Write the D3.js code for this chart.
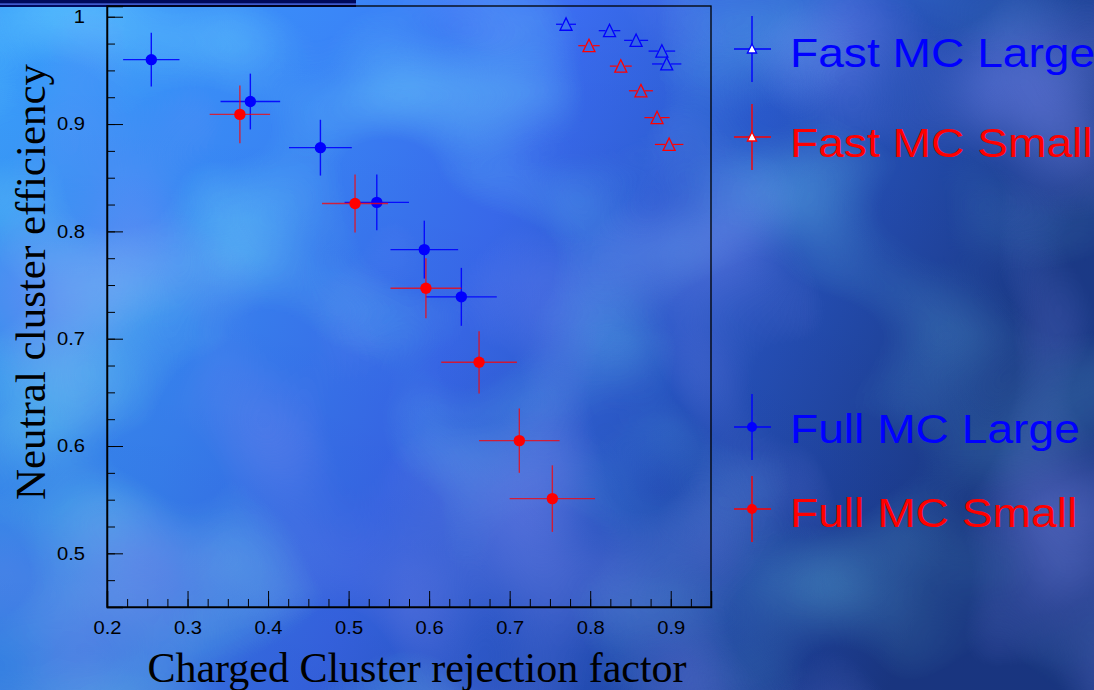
<!DOCTYPE html>
<html>
<head>
<meta charset="utf-8">
<script src="https://cdn.jsdelivr.net/npm/d3@7"></script>
<style>
  body { margin: 0; overflow: hidden; }
  svg { display: block; }
  .axis path, .axis line { stroke: #000; }
  .axis text { font-family: "Liberation Sans", Arial, sans-serif; font-size: 17.7px; fill: #000; }
</style>
</head>
<body>
<div id="chart"></div>
<script>
//chart values
var fullLargeX = [0.255, 0.378, 0.465, 0.535, 0.594, 0.640];
var fullLargeY = [0.960, 0.921, 0.878, 0.827, 0.783, 0.739];
var fullLargeXErr = [0.035, 0.037, 0.039, 0.040, 0.042, 0.044];
var fullLargeYErr = [0.025, 0.026, 0.026, 0.026, 0.027, 0.027];

var fullSmallX = [0.365, 0.508, 0.596, 0.662, 0.712, 0.753];
var fullSmallY = [0.909, 0.826, 0.747, 0.678, 0.605, 0.551];
var fullSmallXErr = [0.0375, 0.041, 0.044, 0.047, 0.050, 0.053];
var fullSmallYErr = [0.027, 0.027, 0.028, 0.029, 0.030, 0.031];

var fastLargeX = [0.770, 0.824, 0.857, 0.889, 0.895];
var fastLargeY = [0.993, 0.987, 0.978, 0.968, 0.956];
var fastLargeXErr = [0.0124, 0.0134, 0.0149, 0.0165, 0.0182];

var fastSmallX = [0.7985, 0.838, 0.863, 0.883, 0.898];
var fastSmallY = [0.973, 0.954, 0.931, 0.906, 0.881];
var fastSmallXErr = [0.0133, 0.0136, 0.0149, 0.0157, 0.0177];

var xMajorTicks = [0.2, 0.3, 0.4, 0.5, 0.6, 0.7, 0.8, 0.9];
var yMajorTicks = [0.5, 0.6, 0.7, 0.8, 0.9, 1.0];
var legendLabels = ["Fast MC Large", "Fast MC Small", "Full MC Large", "Full MC Small"];

(function(){
  var width = 1094, height = 690;
  var blue = "#0000ff", red = "#ff0000";

  var svg = d3.select("#chart").append("svg")
      .attr("width", width)
      .attr("height", height);

  var defs = svg.append("defs");

  //background gradient, light blue on the left to dark navy on the right
  var grad = defs.append("linearGradient")
      .attr("id", "bgGrad")
      .attr("x1", "0%").attr("y1", "0%")
      .attr("x2", "100%").attr("y2", "25%");
  [["0%", "#3aa0fc"], ["30%", "#3a86f8"], ["50%", "#3a6cf0"], ["70%", "#2a5acc"], ["100%", "#1c3c8a"]].forEach(function(s){
    grad.append("stop").attr("offset", s[0]).attr("stop-color", s[1]);
  });

  var shade = defs.append("linearGradient")
      .attr("id", "shadeGrad")
      .attr("x1", "0%").attr("y1", "0%")
      .attr("x2", "0%").attr("y2", "100%");
  shade.append("stop").attr("offset", "0%").attr("stop-color", "#000030").attr("stop-opacity", 0);
  shade.append("stop").attr("offset", "100%").attr("stop-color", "#000030").attr("stop-opacity", 0.12);

  //fade for the light clouds towards the right
  var fadeGrad = defs.append("linearGradient")
      .attr("id", "fadeGrad")
      .attr("x1", "0%").attr("y1", "0%").attr("x2", "100%").attr("y2", "0%");
  fadeGrad.append("stop").attr("offset", "0%").attr("stop-color", "#fff").attr("stop-opacity", 1);
  fadeGrad.append("stop").attr("offset", "55%").attr("stop-color", "#fff").attr("stop-opacity", 0.8);
  fadeGrad.append("stop").attr("offset", "100%").attr("stop-color", "#fff").attr("stop-opacity", 0.35);
  defs.append("mask").attr("id", "fadeMask")
    .append("rect").attr("width", width).attr("height", height).attr("fill", "url(#fadeGrad)");

  //cloudy texture
  var f1 = defs.append("filter").attr("id", "cloudCyan")
      .attr("x", 0).attr("y", 0).attr("width", "100%").attr("height", "100%");
  f1.append("feTurbulence").attr("type", "fractalNoise")
      .attr("baseFrequency", "0.0045 0.006").attr("numOctaves", 2).attr("seed", 7);
  f1.append("feColorMatrix").attr("type", "matrix")
      .attr("values", "0 0 0 0 0.2  0 0 0 0 0.8  0 0 0 0 1  1.7 0 0 0 -0.8");

  var f2 = defs.append("filter").attr("id", "cloudPurple")
      .attr("x", 0).attr("y", 0).attr("width", "100%").attr("height", "100%");
  f2.append("feTurbulence").attr("type", "fractalNoise")
      .attr("baseFrequency", "0.005 0.0045").attr("numOctaves", 2).attr("seed", 23);
  f2.append("feColorMatrix").attr("type", "matrix")
      .attr("values", "0 0 0 0 0.24  0 0 0 0 0.3  0 0 0 0 0.98  1.6 0 0 0 -0.8");

  svg.append("rect").attr("width", width).attr("height", height).attr("fill", "url(#bgGrad)");
  svg.append("rect").attr("width", width).attr("height", height)
      .attr("filter", "url(#cloudCyan)").attr("mask", "url(#fadeMask)");
  svg.append("rect").attr("width", width).attr("height", height).attr("filter", "url(#cloudPurple)");
  svg.append("rect").attr("width", width).attr("height", height).attr("fill", "url(#shadeGrad)");

  //top left banner
  svg.append("rect").attr("x", 0).attr("y", 0).attr("width", 356).attr("height", 7).attr("fill", "#000a5c");
  svg.append("rect").attr("x", 0).attr("y", 3.5).attr("width", 356).attr("height", 1.2).attr("fill", "#5a7cff");

  //scales
  var x = d3.scaleLinear().domain([0.2, 0.95]).range([107, 711]);
  var y = d3.scaleLinear().domain([0.45, 1.01]).range([607, 6]);

  //frame
  svg.append("rect")
      .attr("x", x(0.2)).attr("y", y(1.01))
      .attr("width", x(0.95) - x(0.2)).attr("height", y(0.45) - y(1.01))
      .attr("fill", "none").attr("stroke", "#000").attr("stroke-width", 1.3);

  //minor ticks
  var xMinor = d3.range(0.2, 0.951, 0.025);
  var yMinor = d3.range(0.45, 1.001, 0.025);

  svg.append("g").attr("class", "axis")
      .attr("transform", "translate(0," + y(0.45) + ")")
      .call(d3.axisBottom(x).tickValues(xMinor).tickSize(-8).tickFormat(""))
      .select(".domain").remove();
  svg.append("g").attr("class", "axis")
      .attr("transform", "translate(" + x(0.2) + ",0)")
      .call(d3.axisLeft(y).tickValues(yMinor).tickSize(-8).tickFormat(""))
      .select(".domain").remove();

  //major ticks with labels
  var xAxis = svg.append("g").attr("class", "axis")
      .attr("transform", "translate(0," + y(0.45) + ")")
      .call(d3.axisBottom(x).tickValues(xMajorTicks).tickSize(-16).tickPadding(14).tickFormat(d3.format("~g")));
  xAxis.select(".domain").attr("stroke-width", 1.5);
  var yAxis = svg.append("g").attr("class", "axis")
      .attr("transform", "translate(" + x(0.2) + ",0)")
      .call(d3.axisLeft(y).tickValues(yMajorTicks).tickSize(-16).tickPadding(22).tickFormat(d3.format("~g")));
  yAxis.select(".domain").attr("stroke-width", 1.5);

  //tick labels in the picture are a bit wider than the font, stretch them
  svg.selectAll(".axis .tick text").each(function(){
    var t = d3.select(this);
    var tx = +t.attr("x") || 0;
    t.attr("x", 0).attr("transform", "translate(" + tx + ",0) scale(1.14,1)");
  });

  //axis titles
  svg.append("text")
      .attr("x", 417).attr("y", 682)
      .attr("text-anchor", "middle")
      .style("font-family", "'Liberation Serif', 'Times New Roman', serif")
      .style("font-size", "42px")
      .text("Charged Cluster rejection factor");
  svg.append("text")
      .attr("transform", "translate(45,282) rotate(-90)")
      .attr("text-anchor", "middle")
      .style("font-family", "'Liberation Serif', 'Times New Roman', serif")
      .style("font-size", "43px")
      .text("Neutral cluster efficiency");

  //build a series table from the arrays
  function series(xs, ys, xe, ye){
    return xs.map(function(v, i){
      return {x: v, y: ys[i], xe: xe[i], ye: ye ? ye[i] : 0};
    });
  }

  //full MC points: error crosses with filled circles
  function drawFull(data, color, opacity){
    var g = svg.append("g");
    g.selectAll(".hbar").data(data).enter().append("line")
        .attr("x1", function(d){ return x(d.x - d.xe); })
        .attr("x2", function(d){ return x(d.x + d.xe); })
        .attr("y1", function(d){ return y(d.y); })
        .attr("y2", function(d){ return y(d.y); })
        .attr("stroke", color).attr("stroke-width", 1.4).attr("stroke-opacity", opacity);
    g.selectAll(".vbar").data(data).enter().append("line")
        .attr("x1", function(d){ return x(d.x); })
        .attr("x2", function(d){ return x(d.x); })
        .attr("y1", function(d){ return y(d.y - d.ye); })
        .attr("y2", function(d){ return y(d.y + d.ye); })
        .attr("stroke", color).attr("stroke-width", 1.4).attr("stroke-opacity", opacity);
    g.selectAll("circle").data(data).enter().append("circle")
        .attr("cx", function(d){ return x(d.x); })
        .attr("cy", function(d){ return y(d.y); })
        .attr("r", 5.7)
        .attr("fill", color);
  }

  //fast MC points: open triangles with horizontal error bars outside the marker
  var tri = "M0,-6.4L6,6L-6,6Z";
  function drawFast(data, color){
    var g = svg.append("g");
    g.selectAll(".lbar").data(data).enter().append("line")
        .attr("x1", function(d){ return x(d.x - d.xe); })
        .attr("x2", function(d){ return x(d.x) - 4; })
        .attr("y1", function(d){ return y(d.y); })
        .attr("y2", function(d){ return y(d.y); })
        .attr("stroke", color).attr("stroke-width", 1.2);
    g.selectAll(".rbar").data(data).enter().append("line")
        .attr("x1", function(d){ return x(d.x) + 4; })
        .attr("x2", function(d){ return x(d.x + d.xe); })
        .attr("y1", function(d){ return y(d.y); })
        .attr("y2", function(d){ return y(d.y); })
        .attr("stroke", color).attr("stroke-width", 1.2);
    g.selectAll("path").data(data).enter().append("path")
        .attr("d", tri)
        .attr("transform", function(d){ return "translate(" + x(d.x) + "," + y(d.y) + ")"; })
        .attr("fill", "none")
        .attr("stroke", color).attr("stroke-width", 1.3);
  }

  drawFull(series(fullLargeX, fullLargeY, fullLargeXErr, fullLargeYErr), blue, 0.9);
  drawFull(series(fullSmallX, fullSmallY, fullSmallXErr, fullSmallYErr), red, 0.75);
  drawFast(series(fastLargeX, fastLargeY, fastLargeXErr), blue);
  drawFast(series(fastSmallX, fastSmallY, fastSmallXErr), red);

  //legend
  var legendRows = [
    {label: legendLabels[0], color: blue, marker: "tri", y: 49, ty: 67},
    {label: legendLabels[1], color: red, marker: "tri", y: 137, ty: 157},
    {label: legendLabels[2], color: blue, marker: "dot", y: 427, ty: 443},
    {label: legendLabels[3], color: red, marker: "dot", y: 509, ty: 527}
  ];
  var lg = svg.append("g");
  var rows = lg.selectAll("g").data(legendRows).enter().append("g");
  rows.append("line")
      .attr("x1", 734).attr("x2", 771)
      .attr("y1", function(d){ return d.y; }).attr("y2", function(d){ return d.y; })
      .attr("stroke", function(d){ return d.color; }).attr("stroke-width", 1.4);
  rows.append("line")
      .attr("x1", 752).attr("x2", 752)
      .attr("y1", function(d){ return d.y - 33; }).attr("y2", function(d){ return d.y + 33; })
      .attr("stroke", function(d){ return d.color; }).attr("stroke-width", 1.4);
  rows.filter(function(d){ return d.marker === "dot"; }).append("circle")
      .attr("cx", 752).attr("cy", function(d){ return d.y; })
      .attr("r", 5).attr("fill", function(d){ return d.color; });
  rows.filter(function(d){ return d.marker === "tri"; }).append("path")
      .attr("d", "M0,-5L4.6,4L-4.6,4Z")
      .attr("transform", function(d){ return "translate(752," + d.y + ")"; })
      .attr("fill", "#fff")
      .attr("stroke", function(d){ return d.color; }).attr("stroke-width", 1.3);
  rows.append("text")
      .attr("transform", function(d){ return "translate(790," + d.ty + ") scale(1.14,1)"; })
      .style("font-family", "'Liberation Sans', Arial, sans-serif")
      .style("font-size", "40.5px")
      .attr("fill", function(d){ return d.color; })
      .text(function(d){ return d.label; });
})();
</script>
</body>
</html>
